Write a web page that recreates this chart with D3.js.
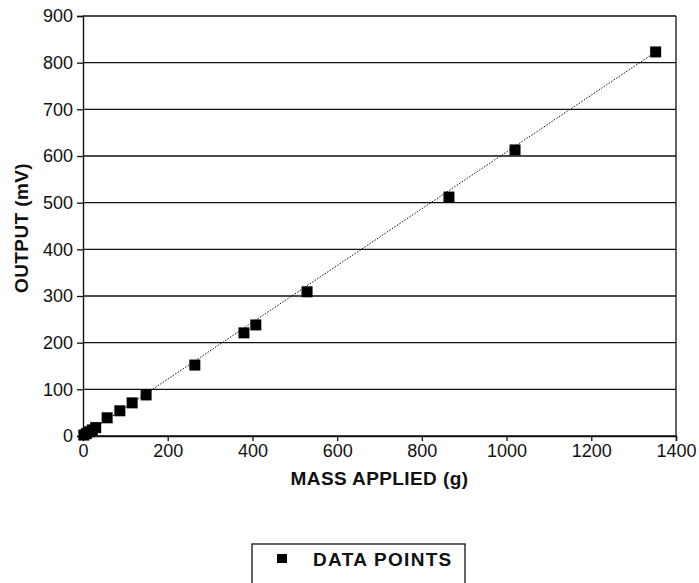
<!DOCTYPE html>
<html><head><meta charset="utf-8">
<script src="https://cdn.jsdelivr.net/npm/d3@7"></script>
<style>body{margin:0;background:#fff}</style>
</head><body>
<svg id="c" width="699" height="583"></svg>
<script>
const massG = [2, 8, 15, 22, 30, 57, 87, 116, 149, 264, 380, 408, 529, 864, 1020, 1352];
const outputMV = [2, 5, 9, 13, 18, 39, 54, 71, 88, 152, 221, 238, 309, 512, 613, 823];
const fitX = [0, 1352];
const fitY = [0, 823];
const xTicks = [0, 200, 400, 600, 800, 1000, 1200, 1400];
const yTicks = [0, 100, 200, 300, 400, 500, 600, 700, 800, 900];
const xTitle = "MASS APPLIED (g)";
const yTitle = "OUTPUT (mV)";
const legendLabel = "DATA POINTS";

const svg = d3.select("#c");
const L = 83, R = 676, T = 16, B = 436;
const x = d3.scaleLinear().domain([0, 1400]).range([L, R]);
const y = d3.scaleLinear().domain([0, 900]).range([B, T]);
const font = "'Liberation Sans', Arial, Helvetica, sans-serif";

// gridlines
svg.append("g").selectAll("line").data(yTicks).join("line")
  .attr("x1", L).attr("x2", R).attr("y1", d => y(d)).attr("y2", d => y(d))
  .attr("stroke", "#111").attr("stroke-width", 1.3);
// right border
svg.append("line").attr("x1", R).attr("x2", R).attr("y1", T).attr("y2", B)
  .attr("stroke", "#111").attr("stroke-width", 1.3);

// axes
const xAxis = svg.append("g").attr("transform", `translate(0,${B})`)
  .call(d3.axisBottom(x).tickValues(xTicks).tickSize(5).tickPadding(3).tickFormat(d3.format("d")));
const yAxis = svg.append("g").attr("transform", `translate(${L},0)`)
  .call(d3.axisLeft(y).tickValues(yTicks).tickSize(6).tickPadding(4).tickFormat(d3.format("d")));
[xAxis, yAxis].forEach(g => {
  g.select(".domain").attr("stroke", "#111").attr("stroke-width", 1.4);
  g.selectAll(".tick line").attr("stroke", "#111").attr("stroke-width", 1.3);
  g.selectAll("text").attr("font-family", font).attr("font-size", 18).attr("fill", "#111");
});

// fit line (dotted)
svg.append("path")
  .datum(fitX.map((d, i) => [d, fitY[i]]))
  .attr("d", d3.line().x(d => x(d[0])).y(d => y(d[1])))
  .attr("fill", "none").attr("stroke", "#111").attr("stroke-width", 1)
  .attr("stroke-dasharray", "1.5,1.5");

// points
const s = 11;
svg.append("g").selectAll("rect").data(massG.map((d, i) => [d, outputMV[i]])).join("rect")
  .attr("x", d => x(d[0]) - s / 2).attr("y", d => y(d[1]) - s / 2)
  .attr("width", s).attr("height", s).attr("fill", "#000");

// titles
svg.append("text").attr("x", (L + R) / 2).attr("y", 485).attr("text-anchor", "middle")
  .attr("font-family", font).attr("font-weight", "bold").attr("font-size", 19).attr("letter-spacing", 0.4).attr("fill", "#111")
  .text(xTitle);
svg.append("text").attr("transform", `translate(28,228) rotate(-90)`)
  .attr("text-anchor", "middle")
  .attr("font-family", font).attr("font-weight", "bold").attr("font-size", 19).attr("letter-spacing", 0.4).attr("fill", "#111")
  .text(yTitle);

// legend
const lg = svg.append("g");
lg.append("rect").attr("x", 252).attr("y", 544).attr("width", 213).attr("height", 60)
  .attr("fill", "none").attr("stroke", "#111").attr("stroke-width", 1.3);
lg.append("rect").attr("x", 277).attr("y", 554).attr("width", 10).attr("height", 9).attr("fill", "#000");
lg.append("text").attr("x", 313).attr("y", 566)
  .attr("font-family", font).attr("font-weight", "bold").attr("font-size", 19).attr("letter-spacing", 1.3).attr("fill", "#111")
  .text(legendLabel);
</script>
</body></html>
